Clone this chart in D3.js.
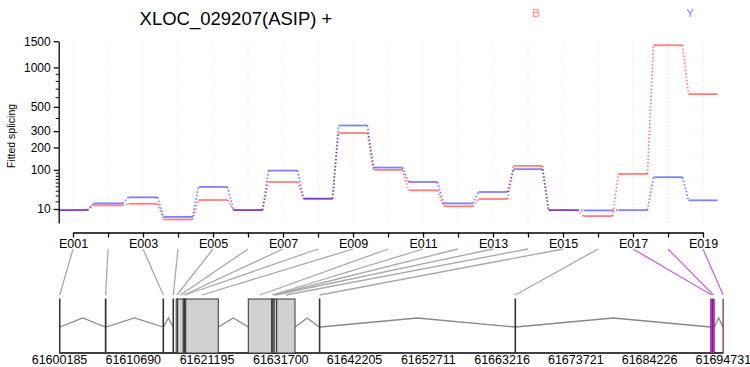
<!DOCTYPE html>
<html>
<head>
<meta charset="utf-8">
<script src="https://cdn.jsdelivr.net/npm/d3@7"></script>
<style>
  body { margin: 0; background: #fff; }
  svg { display: block; font-family: "Liberation Sans", Arial, Helvetica, sans-serif; }
</style>
</head>
<body>
<div id="chart"></div>
<script>
"use strict";

// exon bins and fitted splicing per condition
const exonIds = ["E001", "E002", "E003", "E004", "E005", "E006", "E007", "E008", "E009", "E010",
  "E011", "E012", "E013", "E014", "E015", "E016", "E017", "E018", "E019"];
const fittedB = [8.8, 14.3, 16.5, 1.9, 22.1, 8.8, 61.6, 24.3, 287, 100,
  40.8, 13.1, 23.8, 115, 8.8, 3.8, 86, 1412, 635];
const fittedY = [8.8, 17.0, 26.7, 3.3, 48.6, 8.8, 97.5, 24.3, 341, 108.6,
  61.6, 17.0, 37.1, 102.6, 8.8, 8.5, 8.8, 75.5, 21.6];

// genomic coordinates of each bin
const exonStart = [61600185, 61606708, 61614926, 61616351, 61616807, 61617006, 61617818, 61618003, 61618160, 61627076,
  61630409, 61630565, 61630765, 61631121, 61637188, 61665062, 61692936, 61693192, 61694675];
const exonEnd = [61600256, 61606808, 61615011, 61616436, 61617006, 61617818, 61618003, 61618160, 61622803, 61630409,
  61630565, 61630765, 61631121, 61633727, 61637273, 61665147, 61693192, 61693448, 61694731];
const signifExons = ["E017", "E018", "E019"];

const conditions = ["B", "Y"];
const condColors = ["#ff0000", "#0000ff"];
const condLabelColors = ["#ff8080", "#8080ff"];

const yMajorTicks = [10, 100, 200, 300, 500, 1000, 1500];
const yMinorTicks = [20, 30, 40, 50, 60, 70, 80, 90, 400, 600, 700, 800, 900];
const yMin = 0.6, yMax = 1500;
const genomicTicks = [61600185, 61610690, 61621195, 61631700, 61642205, 61652711,
  61663216, 61673721, 61684226, 61694731];

const width = 750, height = 367;

let svg = d3.select("#chart").append("svg")
  .attr("width", width)
  .attr("height", height)
  .attr("viewBox", [0, 0, width, height].join(" "));

// variance stabilising transform used for the y axis
let vst = q => Math.asinh(Math.sqrt(q / 800));

let x = d3.scalePoint()
  .domain(exonIds)
  .range([73, 703]);

let yv = d3.scaleLinear()
  .domain([vst(yMin), vst(yMax)])
  .range([223, 41.2]);
let y = q => yv(vst(q));

let gx = d3.scaleLinear()
  .domain([genomicTicks[0], genomicTicks[genomicTicks.length - 1]])
  .range([59.5, 723.3]);

let isSig = e => signifExons.indexOf(e) >= 0;
let half = 14.5;

// title + legend
svg.append("text")
  .attr("x", 236).attr("y", 25)
  .attr("text-anchor", "middle")
  .style("font-size", "18.5px")
  .text("XLOC_029207(ASIP) +");

svg.selectAll(".legend")
  .data(conditions)
  .enter().append("text")
  .attr("class", "legend")
  .attr("x", (d, i) => [536, 690][i])
  .attr("y", 16.7)
  .attr("text-anchor", "middle")
  .style("font-size", "11.5px")
  .attr("fill", (d, i) => condLabelColors[i])
  .text(d => d);

// grid lines
svg.append("g").selectAll("line")
  .data(exonIds)
  .enter().append("line")
  .attr("x1", d => x(d)).attr("x2", d => x(d))
  .attr("y1", yv.range()[1]).attr("y2", yv.range()[0])
  .attr("stroke", d => isSig(d) ? "#f6c6f6" : "#e4e4e4")
  .attr("stroke-width", 1)
  .attr("stroke-dasharray", "1,2");

// y axis
svg.append("g")
  .attr("transform", "translate(58.7,0)")
  .call(d3.axisLeft(yv)
    .tickValues(yMajorTicks.map(vst))
    .tickFormat((d, i) => yMajorTicks[i])
    .tickSize(5)
    .tickSizeOuter(0))
  .call(g => g.selectAll("text").style("font-size", "12px").attr("fill", "#000"))
  .call(g => g.selectAll("path, line").attr("stroke", "#000").attr("stroke-width", 1.3));

svg.append("g")
  .attr("transform", "translate(58.7,0)")
  .call(d3.axisLeft(yv)
    .tickValues(yMinorTicks.map(vst))
    .tickFormat("")
    .tickSize(3)
    .tickSizeOuter(0))
  .call(g => g.select(".domain").remove())
  .call(g => g.selectAll("line").attr("stroke", "#000").attr("stroke-width", 1));

svg.append("text")
  .attr("transform", "translate(14.5,136) rotate(-90)")
  .attr("text-anchor", "middle")
  .style("font-size", "10.5px")
  .text("Fitted splicing");

// x axis (exon bins)
svg.append("g")
  .attr("transform", "translate(0,232.5)")
  .call(d3.axisBottom(x)
    .tickSize(5)
    .tickPadding(2)
    .tickSizeOuter(0)
    .tickFormat((d, i) => i % 2 === 0 ? d : ""))
  .call(g => g.selectAll("text").style("font-size", "12.5px").attr("fill", "#000"))
  .call(g => g.selectAll("path, line").attr("stroke", "#000").attr("stroke-width", 1.3));

// fitted splicing lines
let series = [fittedB, fittedY];
series.forEach(function(vals, ci) {
  let grp = svg.append("g")
    .attr("stroke", condColors[ci])
    .attr("stroke-opacity", 0.5)
    .attr("stroke-width", 1.8)
    .attr("fill", "none");

  grp.selectAll(".seg")
    .data(exonIds)
    .enter().append("line")
    .attr("class", "seg")
    .attr("x1", d => x(d) - half).attr("x2", d => x(d) + half)
    .attr("y1", (d, i) => y(vals[i])).attr("y2", (d, i) => y(vals[i]));

  grp.selectAll(".conn")
    .data(exonIds.slice(1))
    .enter().append("line")
    .attr("class", "conn")
    .attr("x1", (d, i) => x(exonIds[i]) + half)
    .attr("y1", (d, i) => y(vals[i]))
    .attr("x2", d => x(d) - half)
    .attr("y2", (d, i) => y(vals[i + 1]))
    .attr("stroke-dasharray", "1.5,2");
});

// gene model
let exonTop = 299, exonBottom = 353;

svg.append("g").selectAll("line")
  .data(exonIds)
  .enter().append("line")
  .attr("x1", d => x(d))
  .attr("y1", 249)
  .attr("x2", (d, i) => gx((exonStart[i] + exonEnd[i]) / 2))
  .attr("y2", 295)
  .attr("stroke", d => isSig(d) ? "#cc66d6" : "#a8a8a8")
  .attr("stroke-width", 1.3);

// introns
let intronIdx = d3.range(exonIds.length - 1)
  .filter(i => gx(exonStart[i + 1]) - gx(exonEnd[i]) > 3);

svg.append("g").selectAll("path")
  .data(intronIdx)
  .enter().append("path")
  .attr("d", function(i) {
    let x0 = gx(exonEnd[i]), x1 = gx(exonStart[i + 1]);
    return d3.line()([[x0, 327], [(x0 + x1) / 2, 318], [x1, 327]]);
  })
  .attr("fill", "none")
  .attr("stroke", "#888")
  .attr("stroke-width", 1.3);

svg.append("line")
  .attr("x1", gx(exonStart[0])).attr("x2", gx(exonEnd[exonEnd.length - 1]))
  .attr("y1", exonBottom).attr("y2", exonBottom)
  .attr("stroke", "#000")
  .attr("stroke-width", 1.5);

svg.append("g").selectAll("rect")
  .data(exonIds)
  .enter().append("rect")
  .attr("x", (d, i) => gx(exonStart[i]))
  .attr("width", (d, i) => Math.max(gx(exonEnd[i]) - gx(exonStart[i]), 0.4))
  .attr("y", exonTop)
  .attr("height", exonBottom - exonTop)
  .attr("fill", d => isSig(d) ? "#e010e0" : "#d0d0d0")
  .attr("stroke", d => isSig(d) ? "#502050" : "#333")
  .attr("stroke-width", d => isSig(d) ? 0.6 : 1);

svg.append("g").selectAll("text")
  .data(genomicTicks)
  .enter().append("text")
  .attr("x", d => gx(d))
  .attr("y", 364)
  .attr("text-anchor", "middle")
  .style("font-size", "12.5px")
  .text(d => d);
</script>
</body>
</html>
